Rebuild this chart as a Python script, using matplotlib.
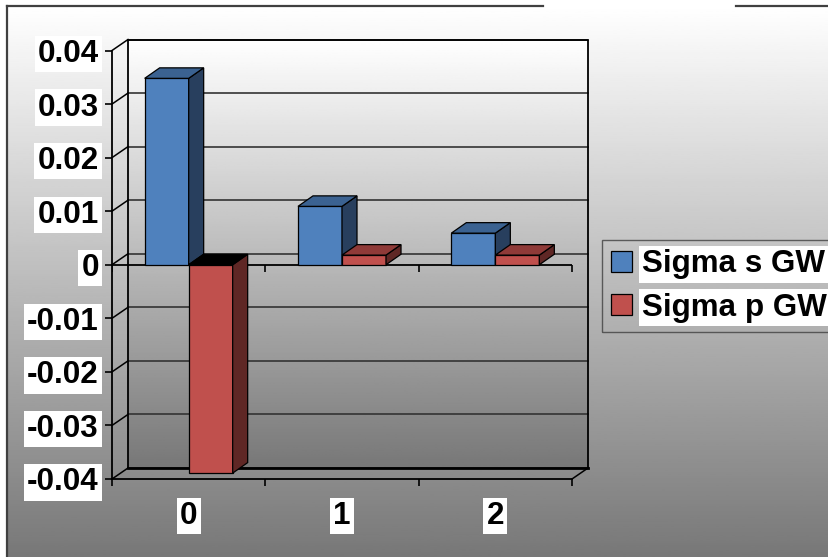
import numpy as np
import matplotlib
matplotlib.use("Agg")
import matplotlib.pyplot as plt
from matplotlib.patches import Polygon
from matplotlib.lines import Line2D

plt.rcParams["font.family"] = "Liberation Sans"
plt.rcParams["font.weight"] = "bold"

# data
categories = ["0", "1", "2"]
sigma_s = [0.0348, 0.0109, 0.0059]
sigma_p = [-0.0389, 0.0018, 0.0018]
series_names = ["Sigma s GW", "Sigma p GW"]
y_ticks = [-0.04, -0.03, -0.02, -0.01, 0, 0.01, 0.02, 0.03, 0.04]
y_tick_labels = ["-0.04", "-0.03", "-0.02", "-0.01", "0", "0.01", "0.02", "0.03", "0.04"]

FONT = 22.6
W, H, DPI = 829, 557, 100
WHITE_BOX = dict(boxstyle="square,pad=0.1", facecolor="white", edgecolor="none")

# colours: front, top, side
BLUE = ("#4F81BD", "#3B6291", "#283F5E")
RED = ("#C0504D", "#8F3A38", "#5F2725")


def px_to_data(ax, dx, dy):
    """pixel offset -> data offset (linear axes)"""
    inv = ax.transData.inverted()
    (x0, y0), (x1, y1) = inv.transform([(0, 0), (dx, dy)])
    return x1 - x0, y1 - y0


def add_3d_faces(ax, rects, colors, depth, zorder):
    ddx, ddy = depth
    for rect in rects:
        l = rect.get_x()
        r = l + rect.get_width()
        y0 = rect.get_y()
        y1 = y0 + rect.get_height()
        lo, hi = min(y0, y1), max(y0, y1)
        # negative bars show a dark top face at zero
        top_col = "black" if y1 < y0 else colors[1]
        top = [(l, hi), (r, hi), (r + ddx, hi + ddy), (l + ddx, hi + ddy)]
        side = [(r, lo), (r, hi), (r + ddx, hi + ddy), (r + ddx, lo + ddy)]
        for pts, col in ((side, colors[2]), (top, top_col)):
            ax.add_patch(Polygon(pts, closed=True, facecolor=col, edgecolor="black",
                                 lw=0.9, zorder=zorder, clip_on=False))


fig = plt.figure(figsize=(W / DPI, H / DPI), dpi=DPI)
fig.patch.set_facecolor("white")

# hintergrund mit verlauf
bg = fig.add_axes([7 / W, 0, 1 - 7 / W, (H - 6) / H], zorder=0)
grad = np.linspace(1.0, 0.47, 256).reshape(-1, 1)
bg.imshow(grad, cmap="gray", vmin=0, vmax=1, aspect="auto", extent=(0, 1, 0, 1))
bg.set_axis_off()

# rahmen links und oben (mit luecke)
frame_kw = dict(transform=fig.transFigure, color="#404040", lw=1.6)
fig.add_artist(Line2D([7 / W, 7 / W], [0, 1 - 6 / H], **frame_kw))
fig.add_artist(Line2D([7 / W, 543 / W], [1 - 6 / H, 1 - 6 / H], **frame_kw))
fig.add_artist(Line2D([736 / W, 1], [1 - 6 / H, 1 - 6 / H], **frame_kw))

ax = fig.add_axes([112 / W, 78 / H, 460 / W, 428.5 / H], zorder=1)
ax.set_facecolor("none")
xmin, xmax = -0.5, len(categories) - 0.5
ax.set_xlim(xmin, xmax)
ax.set_ylim(y_ticks[0], y_ticks[-1])

wall = px_to_data(ax, 16, 11)
bar_depth = px_to_data(ax, 15, 10.5)
wdx, wdy = wall

# rueckwand
wall_grad = np.linspace(1.0, 0.47, 256).reshape(-1, 1)
ax.imshow(wall_grad, cmap="gray", vmin=0, vmax=1, aspect="auto",
          extent=(xmin + wdx, xmax + wdx, y_ticks[0] + wdy, y_ticks[-1] + wdy),
          clip_on=False, zorder=0)

# gitterlinien auf rueckwand und seitenwand
for yv in y_ticks:
    ax.plot([xmin + wdx, xmax + wdx], [yv + wdy, yv + wdy], color="#333333", lw=1.2,
            clip_on=False, zorder=0.5)
    ax.plot([xmin, xmin + wdx], [yv, yv + wdy], color="black", lw=1.1,
            clip_on=False, zorder=0.5)

# wandkanten
edge_kw = dict(color="black", clip_on=False, zorder=0.6)
ax.plot([xmin + wdx, xmax + wdx, xmax + wdx], [y_ticks[-1] + wdy, y_ticks[-1] + wdy,
        y_ticks[0] + wdy], lw=1.3, **edge_kw)
ax.plot([xmin + wdx, xmin + wdx], [y_ticks[0] + wdy, y_ticks[-1] + wdy], lw=1.3, **edge_kw)
ax.plot([xmin + wdx, xmax + wdx], [y_ticks[0] + wdy, y_ticks[0] + wdy], lw=2.0, **edge_kw)
ax.plot([xmax, xmax + wdx], [y_ticks[0], y_ticks[0] + wdy], lw=1.1, **edge_kw)

# kategorieachse bei null
bounds = np.arange(len(categories) + 1) - 0.5
ax.axhline(0, color="black", lw=1.3, zorder=1)
ax.plot(bounds, [0] * len(bounds), linestyle="none", marker=3, markersize=5,
        markeredgewidth=1.2, color="black", zorder=1)

# balken
x = np.arange(len(categories))
w = 0.287
s_bars = ax.bar(x - w / 2, sigma_s, w, color=BLUE[0], edgecolor="black", lw=0.9,
                zorder=3, label=series_names[0])
add_3d_faces(ax, s_bars, BLUE, bar_depth, 3)
p_bars = ax.bar(x + w / 2, sigma_p, w, color=RED[0], edgecolor="black", lw=0.9,
                zorder=4, label=series_names[1])
add_3d_faces(ax, p_bars, RED, bar_depth, 4)

# achsen
for side in ("top", "right"):
    ax.spines[side].set_visible(False)
for side in ("left", "bottom"):
    ax.spines[side].set_linewidth(1.3)
    ax.spines[side].set_zorder(1)

ax.set_yticks(y_ticks)
ax.set_yticklabels(y_tick_labels)
ax.tick_params(axis="y", direction="out", length=5, width=1.2, pad=4.5, labelsize=FONT)

ax.set_xticks(bounds)
ax.set_xticklabels([])
ax.set_xticks(x, minor=True)
ax.set_xticklabels(categories, minor=True)
ax.tick_params(axis="x", which="major", direction="out", length=5, width=1.2)
ax.tick_params(axis="x", which="minor", length=0, pad=16, labelsize=FONT)

for lab in ax.get_yticklabels() + ax.get_xticklabels(minor=True):
    lab.set_bbox(WHITE_BOX)

# legende
leg = ax.legend(handles=[s_bars, p_bars], labels=series_names, loc="upper left",
                bbox_to_anchor=(602 / W, 1 - 240 / H), bbox_transform=fig.transFigure,
                borderaxespad=0, fontsize=FONT, fancybox=False, frameon=True,
                edgecolor="#404040", facecolor="none", framealpha=None,
                handlelength=0.64, handleheight=0.64, handletextpad=0.35,
                labelspacing=0.42, borderpad=0.3)
leg.get_frame().set_linewidth(1.0)
for t in leg.get_texts():
    t.set_bbox(WHITE_BOX)

fig.savefig("out.png", dpi=DPI)
